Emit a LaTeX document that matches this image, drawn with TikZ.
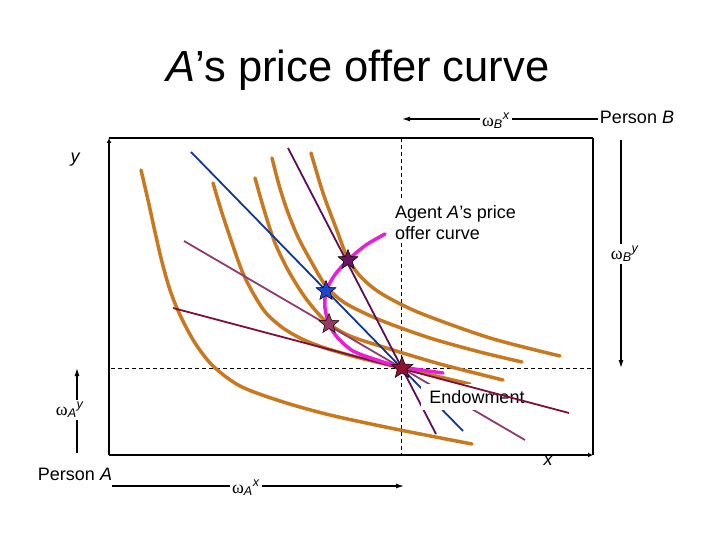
\documentclass[tikz,border=0pt]{standalone}
\usepackage{fontspec}
\setmainfont{Liberation Sans}
\newfontfamily\omegafont{Liberation Serif}
\usetikzlibrary{arrows.meta,shapes.geometric}
\definecolor{ic}{RGB}{200,120,30}
\definecolor{pblue}{RGB}{15,55,150}
\definecolor{ppurple}{RGB}{90,15,90}
\definecolor{pmauve}{RGB}{140,60,110}
\definecolor{pmaroon}{RGB}{125,15,60}
\definecolor{offer}{RGB}{235,30,215}
\definecolor{spurple}{RGB}{105,20,95}
\definecolor{sblue}{RGB}{30,70,200}
\definecolor{smauve}{RGB}{150,60,100}
\definecolor{smaroon}{RGB}{140,20,50}
\newcommand{\wlab}[2]{{\omegafont ω}\textsubscript{\textit{#1}}\textsuperscript{\textit{#2}}}
\tikzset{
  indiff/.style={ic, line width=3.5pt, line cap=round},
  price/.style={line width=1.8pt},
  guide/.style={dash pattern=on 4pt off 3pt, line width=0.8pt},
  lbl/.style={font=\fontsize{18}{21}\selectfont, inner sep=2pt},
  arr/.style={-{Latex[length=8pt,width=5pt]}, line width=1.2pt},
  plain/.style={line width=1.2pt},
  starmark/.style={star, star points=5, star point ratio=2.3, minimum size=21pt, inner sep=0pt, draw=black, line width=0.5pt},
}
\begin{document}
\begin{tikzpicture}[x=1pt,y=-1pt]
\useasboundingbox (0,0) rectangle (720,540);

% title
\node[font=\fontsize{43.5}{48}\selectfont, anchor=base, inner sep=0pt] (title) at (358,82) {\textit{A}'s price offer curve};

% box
\coordinate (BL) at (109,455);
\coordinate (TL) at (109,138);
\coordinate (TR) at (593,138);
\coordinate (BR) at (593,455);
\coordinate (TLa) at (109,185);
\draw[line width=1.2pt] (TL) -- (TR);
\draw[line width=1.6pt] (TR) -- (BR);
\draw[line width=2pt, -{Latex[length=5pt,width=5pt]}] (BL) -- (BR);
\draw[line width=1.4pt] (BL) -- (TLa);
\draw[line width=2.4pt, -{Latex[length=5pt,width=5pt]}] (TLa) -- (TL);

% guides
\coordinate (Vtop) at (401,138);
\coordinate (Vbot) at (401,455);
\coordinate (Hl) at (111,368);
\coordinate (Hr) at (593,368);
\draw[guide] (Vtop) -- (Vbot);
\draw[guide] (Hl) -- (Hr);

% indifference curves
\draw[indiff] plot[smooth] coordinates {(141,170) (148,200) (155,232) (162,262) (170,290) (180,315) (195,343) (213,366) (240,386) (280,401) (330,415) (400,430) (472,444)};
\draw[indiff] plot[smooth] coordinates {(213,183) (222,213) (232,243) (242,271) (253,293) (266,313) (283,328) (302,339) (325,348) (360,358) (402,368) (440,377) (470,384)};
\draw[indiff] plot[smooth] coordinates {(255,178) (265,213) (275,243) (288,270) (302,293) (315,310) (329,324) (350,336) (380,346) (440,364) (503,380)};
\draw[indiff] plot[smooth] coordinates {(272,158) (279,185) (287,210) (298,237) (312,263) (326,286) (345,303) (380,320) (430,338) (480,352) (522,362)};
\draw[indiff] plot[smooth] coordinates {(311,153) (323,193) (336,228) (348,259) (362,278) (382,294) (420,313) (490,338) (560,356)};

% price lines
\coordinate (bl1) at (191,152); \coordinate (bl2) at (463,431);
\coordinate (pl1) at (288,148); \coordinate (pl2) at (436,434);
\coordinate (ml1) at (184,241); \coordinate (ml2) at (525,440);
\coordinate (rl1) at (173,308); \coordinate (rl2) at (569,413);
\draw[price, pblue] (bl1) -- (bl2);
\draw[price, ppurple] (pl1) -- (pl2);
\draw[price, pmauve] (ml1) -- (ml2);

\node[lbl, fill=white, minimum width=112pt, minimum height=26pt] (endow) at (477,397) {Endowment};

\draw[price, pmaroon] (rl1) -- (rl2);

% offer curve
\draw[offer, line width=3.5pt, line cap=round] plot[smooth] coordinates {(385,234) (366,245) (348,260) (334,276) (326,292) (325,308) (329,324) (337,337) (353,351) (377,360) (402,367) (443,373)};

\node[lbl, fill=white, align=left, anchor=north west, inner sep=4pt] (agent) at (391,201) {Agent \textit{A}'s price\\offer curve};

% stars
\node[starmark, fill=spurple] (s1) at (348,260) {};
\node[starmark, fill=sblue] (s2) at (326,291) {};
\node[starmark, fill=smauve] (s3) at (329,324) {};
\node[starmark, fill=smaroon, minimum size=23pt] (s4) at (402,368) {};

% axis labels
\node[lbl, font=\fontsize{18}{21}\selectfont\itshape] (ylab) at (75,160) {y};
\node[lbl, font=\fontsize{18}{21}\selectfont\itshape] (xlab) at (548,461) {x};

% Person B
\node[lbl] (pB) at (637,117) {Person \textit{B}};
\node[lbl] (wBx) at (496,121) {\wlab{B}{x}};
\coordinate (bxTip) at (402,119);
\draw[plain] (pB.west |- bxTip) -- (wBx.east |- bxTip);
\draw[arr] (wBx.west |- bxTip) -- (bxTip);

\node[lbl] (wBy) at (625,254) {\wlab{B}{y}};
\coordinate (byTop) at (621,140);
\coordinate (byTip) at (621,368);
\draw[plain] (byTop) -- (byTop |- wBy.north);
\draw[arr] (byTop |- wBy.south) -- (byTip);

% Person A
\node[lbl] (pA) at (75,474) {Person \textit{A}};
\node[lbl] (wAy) at (70,410) {\wlab{A}{y}};
\coordinate (ayBot) at (77,453);
\coordinate (ayTip) at (77,368);
\draw[plain] (ayBot) -- (ayBot |- wAy.south);
\draw[arr] (ayBot |- wAy.north) -- (ayTip);

\node[lbl] (wAx) at (246,488) {\wlab{A}{x}};
\coordinate (axStart) at (112,486);
\coordinate (axTip) at (404,486);
\draw[plain] (axStart) -- (axStart -| wAx.west);
\draw[arr] (axStart -| wAx.east) -- (axTip);
\end{tikzpicture}
\end{document}
